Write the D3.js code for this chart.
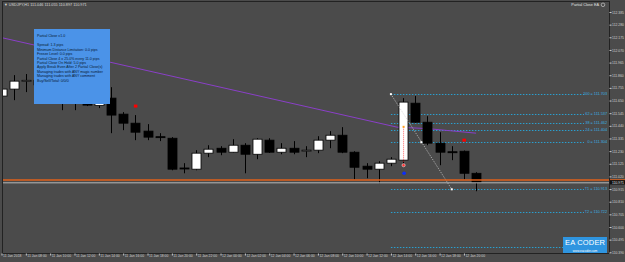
<!DOCTYPE html>
<html>
<head>
<meta charset="utf-8">
<script src="https://cdn.jsdelivr.net/npm/d3@7"></script>
<style>
  body { margin: 0; background: #4b4b4b; }
  svg { display: block; }
</style>
</head>
<body>
<svg id="chart"></svg>
<script>
// H1 bars, index 0 = 11 Jan 06:00
const opens  = [111.687,111.745,111.815,111.818,111.780,111.720,111.650,111.680,111.608,111.670,
                111.537,111.462,111.396,111.350,111.337,111.090,111.080,111.213,111.254,111.221,
                111.279,111.204,111.321,111.221,111.254,111.232,111.238,111.321,111.362,111.221,
                111.105,111.080,111.130,111.155,111.628,111.470,111.296,111.225,111.229,111.046];
const highs  = [111.770,111.861,111.870,111.850,111.800,111.760,111.700,111.720,111.660,111.761,
                111.554,111.529,111.454,111.379,111.346,111.130,111.238,111.279,111.271,111.329,
                111.296,111.337,111.337,111.296,111.313,111.271,111.354,111.396,111.429,111.229,
                111.130,111.146,111.180,111.670,111.687,111.520,111.387,111.271,111.235,111.055];
const lows   = [111.660,111.653,111.720,111.760,111.700,111.570,111.570,111.604,111.587,111.379,
                111.404,111.321,111.321,111.313,111.071,111.046,111.071,111.180,111.196,111.218,
                111.046,111.163,111.215,111.204,111.204,111.180,111.213,111.254,111.213,110.996,
                111.005,110.963,111.105,111.113,111.465,111.279,111.113,111.155,110.996,110.897];
const closes = [111.745,111.811,111.818,111.780,111.720,111.650,111.680,111.612,111.640,111.529,
                111.462,111.387,111.346,111.343,111.080,111.086,111.213,111.246,111.221,111.279,
                111.204,111.329,111.221,111.254,111.221,111.238,111.321,111.362,111.221,111.096,
                111.080,111.130,111.163,111.637,111.470,111.296,111.221,111.218,111.046,110.971];

const priceTicks = [112.385,112.280,112.175,112.070,111.965,111.860,111.755,111.650,111.545,111.440,
                    111.335,111.230,111.125,111.020,110.915,110.810,110.705,110.600,110.495,110.390];
const timeBars   = [0,2,4,6,8,10,12,14,16,18,20,22,24,26,28,30,32,34,36,38];
const timeLabels = ["11 Jan 2018","11 Jan 08:00","11 Jan 10:00","11 Jan 12:00","11 Jan 14:00",
                    "11 Jan 16:00","11 Jan 18:00","11 Jan 20:00","11 Jan 22:00","12 Jan 00:00",
                    "12 Jan 02:00","12 Jan 04:00","12 Jan 06:00","12 Jan 08:00","12 Jan 10:00",
                    "12 Jan 12:00","12 Jan 14:00","12 Jan 16:00","12 Jan 18:00","12 Jan 20:00"];

// fibo / target levels (the lowest one has its label hidden under the logo)
const fiboLabels = ["100 = 111.703","62 = 111.537","38 = 111.462","24 = 111.404","0 = 111.304",
                    "T1 = 110.913","T2 = 110.722",""];
const fiboPrices = [111.703,111.537,111.462,111.404,111.304,110.913,110.722,110.431];

// purple trend line (bar, price)
const trendBars   = [-0.2, 32.5, 35, 39];
const trendPrices = [112.177, 111.429, 111.417, 111.379];

// fibo anchor diagonal (bar, price)
const anchorBars   = [32, 34.5, 37];
const anchorPrices = [111.703, 111.304, 110.913];

const hLinePrice = 110.990; // orange horizontal line
const bidPrice   = 110.971;

const infoLines = ["Partial Close v1.0","","Spread: 1.3 pips","Minimum Distance Limitation: 0.0 pips",
  "Freeze Level: 0.0 pips","Partial Close 4 x 25.0% every 11.0 pips","Partial Close On Hold: 5.0 pips",
  "Apply Break Even After 2 Partial Close(s)","Managing trades with ANY magic number",
  "Managing trades with ANY comment","Buy/Sell/Total: 0/0/0"];

const W = 625, H = 262;
const plotRight = 609, plotBottom = 253;
const FONT = "'Liberation Sans'";

const svg = d3.select("#chart").attr("width", W).attr("height", H);
svg.append("rect").attr("width", W).attr("height", H).attr("fill", "#4b4b4b");

const x = d3.scaleLinear().domain([0, 39]).range([1.5, 476.1]);
const y = d3.scaleLinear().domain([110.390, 112.385]).range([252.3, 12]);

svg.append("defs").append("clipPath").attr("id", "plot")
  .append("rect").attr("x", 2).attr("y", 1).attr("width", plotRight - 2).attr("height", plotBottom - 1);

const g = svg.append("g").attr("clip-path", "url(#plot)");

//fibo lines
fiboPrices.forEach((p, i) => {
  g.append("line")
    .attr("x1", x(32)).attr("x2", 584)
    .attr("y1", Math.round(y(p)) + 0.5).attr("y2", Math.round(y(p)) + 0.5)
    .attr("stroke", "#2a9fcf").attr("stroke-width", 1).attr("stroke-dasharray", "1.5,1.5");
  if (fiboLabels[i]) {
    g.append("text")
      .attr("x", 607).attr("y", y(p) + 0.5)
      .attr("text-anchor", "end")
      .style("font", `3.8px ${FONT}`)
      .attr("fill", "#3aaee0")
      .text(fiboLabels[i]);
  }
});

//purple trend line
const line = d3.line().x(d => x(d[0])).y(d => y(d[1]));
g.append("path")
  .datum(trendBars.map((b, i) => [b, trendPrices[i]]))
  .attr("d", line)
  .attr("fill", "none").attr("stroke", "#8a3fc8").attr("stroke-width", 1);

//candles
const bodyW = 9;
const idx = d3.range(opens.length);
g.selectAll("line.wick").data(idx).join("line")
  .attr("class", "wick")
  .attr("x1", i => Math.round(x(i)) + 0.5).attr("x2", i => Math.round(x(i)) + 0.5)
  .attr("y1", i => y(highs[i])).attr("y2", i => y(lows[i]))
  .attr("stroke", "#000").attr("stroke-width", 1);
g.selectAll("rect.body").data(idx).join("rect")
  .attr("class", "body")
  .attr("x", i => Math.round(x(i)) - bodyW / 2 + 0.5)
  .attr("y", i => y(Math.max(opens[i], closes[i])))
  .attr("width", bodyW)
  .attr("height", i => Math.max(1, Math.abs(y(opens[i]) - y(closes[i]))))
  .attr("fill", i => closes[i] >= opens[i] ? "#fff" : "#000")
  .attr("stroke", "#000").attr("stroke-width", 0.8);

//trade marks on the big bull bar
g.append("line")
  .attr("x1", x(33) + 0.5).attr("x2", x(33) + 0.5)
  .attr("y1", y(111.428)).attr("y2", y(111.140))
  .attr("stroke", "#ff4040").attr("stroke-width", 0.8).attr("stroke-dasharray", "1,1");
g.append("rect").attr("x", x(33) - 0.5).attr("y", y(111.440)).attr("width", 2).attr("height", 2).attr("fill", "#ffa020");
g.append("circle").attr("cx", x(33) + 0.5).attr("cy", y(111.113)).attr("r", 1.6)
  .attr("fill", "#ff3030").attr("stroke", "#ddd").attr("stroke-width", 0.6);
g.append("circle").attr("cx", x(33) + 1).attr("cy", y(111.046)).attr("r", 1.8).attr("fill", "#0a2cff");

//red markers
[[11, 111.604], [38, 111.321]].forEach(d => {
  g.append("rect").attr("x", x(d[0]) - 1.5).attr("y", y(d[1]) - 1.5)
    .attr("width", 3.5).attr("height", 3).attr("fill", "#ff0000");
});

//fibo anchor diagonal
g.append("path")
  .datum(anchorBars.map((b, i) => [b, anchorPrices[i]]).filter((d, i) => i !== 1))
  .attr("d", line)
  .attr("fill", "none").attr("stroke", "#cfcfcf").attr("stroke-width", 0.8).attr("stroke-dasharray", "1,1.2");
anchorBars.forEach((b, i) => {
  g.append("rect").attr("x", x(b) - 1).attr("y", y(anchorPrices[i]) - 1)
    .attr("width", 2).attr("height", 2).attr("fill", "#fff");
});

//horizontal line + bid
g.append("line").attr("x1", 2).attr("x2", plotRight)
  .attr("y1", y(bidPrice) + 0.5).attr("y2", y(bidPrice) + 0.5)
  .attr("stroke", "#b8b8b8").attr("stroke-width", 1);
svg.append("line").attr("x1", 2).attr("x2", W)
  .attr("y1", y(hLinePrice)).attr("y2", y(hLinePrice))
  .attr("stroke", "#e0601a").attr("stroke-width", 1.6);

//info panel
const info = svg.append("g");
info.append("rect").attr("x", 34).attr("y", 29).attr("width", 76).attr("height", 75).attr("fill", "#4b93e8");
info.selectAll("text").data(infoLines).join("text")
  .attr("x", 37)
  .attr("y", (d, i) => 37.3 + i * 4.45)
  .style("font", `3.6px ${FONT}`)
  .attr("fill", "#0a1a30")
  .text(d => d);

//frame
svg.append("line").attr("x1", 2).attr("x2", plotRight).attr("y1", 1.5).attr("y2", 1.5).attr("stroke", "#222");
svg.append("line").attr("x1", 2.5).attr("x2", 2.5).attr("y1", 1).attr("y2", plotBottom).attr("stroke", "#222");

//right price axis
const yAxis = svg.append("g")
  .attr("transform", `translate(${plotRight + 0.5},0)`)
  .call(d3.axisRight(y).tickValues(priceTicks).tickSize(2).tickFormat(d3.format(".3f")));
yAxis.select(".domain").attr("stroke", "#222").attr("d", `M0,1V${plotBottom}`);
yAxis.selectAll(".tick line").attr("stroke", "#ccc");
yAxis.selectAll("text").attr("x", 2.5).style("font", `3.4px ${FONT}`).attr("fill", "#d0d0d0");

//current price box
svg.append("rect").attr("x", plotRight + 1).attr("y", y(bidPrice) - 2.2).attr("width", 15).attr("height", 4.4).attr("fill", "#111");
svg.append("text").attr("x", plotRight + 3).attr("y", y(bidPrice) + 1.2)
  .style("font", `3.4px ${FONT}`).attr("fill", "#e8e8e8").text(d3.format(".3f")(bidPrice));

//time axis
const xAxis = svg.append("g")
  .attr("transform", `translate(0,${plotBottom + 0.5})`)
  .call(d3.axisBottom(x).tickValues(timeBars).tickSize(2).tickFormat((d, i) => timeLabels[i]));
xAxis.select(".domain").attr("stroke", "#222").attr("d", `M2,0H${plotRight}`);
xAxis.selectAll(".tick line").attr("stroke", "#ccc");
xAxis.selectAll("text").attr("text-anchor", "start").attr("dx", 1).attr("y", 1.2)
  .style("font", `3.4px ${FONT}`).attr("fill", "#d0d0d0");

//titles
svg.append("text").attr("x", 4).attr("y", 6)
  .style("font", `3.8px ${FONT}`).attr("fill", "#d8d8d8")
  .text("\u25BC USDJPY,H1  111.046 111.055 110.897 110.971");
svg.append("text").attr("x", 599).attr("y", 6).attr("text-anchor", "end")
  .style("font", `3.8px ${FONT}`).attr("fill", "#e0e0e0").text("Partial Close EA");
svg.append("circle").attr("cx", 603).attr("cy", 4.8).attr("r", 1.8).attr("fill", "none").attr("stroke", "#ddd").attr("stroke-width", 0.6);

//logo
const logo = svg.append("g");
logo.append("rect").attr("x", 563).attr("y", 237).attr("width", 44).attr("height", 16).attr("fill", "#2f95e0");
logo.append("text").attr("x", 585).attr("y", 245.3).attr("text-anchor", "middle")
  .style("font", `7.5px ${FONT}`).attr("fill", "#fff").attr("textLength", 40).text("EA CODER");
logo.append("text").attr("x", 585).attr("y", 251.6).attr("text-anchor", "middle")
  .style("font", `3px ${FONT}`).attr("fill", "#fff").text("www.eacoder.com");
</script>
</body>
</html>
